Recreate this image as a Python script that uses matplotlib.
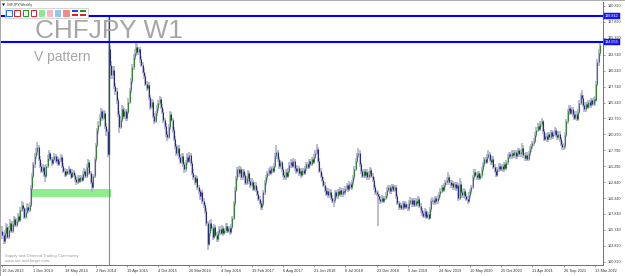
import matplotlib
matplotlib.use("Agg")
import matplotlib.pyplot as plt
from matplotlib.patches import Rectangle, Polygon
from matplotlib.transforms import blended_transform_factory
import numpy as np

# ---------------- data (weekly CHFJPY) ----------------
first_open = 105.2
closes = [
    104.5, 103.6, 104.9, 105.8, 104.3, 105.4, 106.5, 105.2, 106.2, 107.0, 106.1, 106.8, 107.5, 106.9, 108.4, 109.3, 108.7, 107.4, 108.2, 109.0, 108.4, 109.2, 111.9, 113.8,
    115.6, 116.9, 117.6, 118.3, 116.5, 115.4, 114.6, 115.2, 114.0, 113.8, 115.3, 116.6, 117.4, 116.5, 115.8, 116.4, 116.9, 116.1, 116.5, 115.7, 116.2, 116.8, 115.4, 114.6,
    114.0, 114.6, 114.2, 114.9, 114.3, 113.7, 114.4, 113.9, 113.3, 112.8, 113.5, 113.0, 113.6, 113.2, 114.1, 114.6, 113.8, 115.2, 116.0, 114.3, 112.9, 112.0, 113.8, 116.4,
    118.6, 120.9, 121.8, 123.0, 123.9, 122.8, 123.6, 121.6, 120.8, 117.2, 133.6, 131.2, 129.5, 130.4, 127.8, 127.0, 125.6, 123.4, 121.5, 122.6, 124.3, 123.2, 123.9, 122.9,
    123.8, 125.4, 127.2, 128.6, 130.8, 132.4, 133.0, 134.0, 133.1, 133.6, 132.0, 131.2, 130.1, 129.4, 128.2, 127.6, 128.0, 126.1, 124.6, 125.3, 123.2, 122.4, 123.6, 124.4,
    125.2, 125.8, 124.6, 123.8, 122.5, 121.6, 120.3, 119.8, 121.4, 123.4, 122.6, 121.0, 119.6, 118.4, 117.3, 118.2, 116.8, 116.0, 116.9, 115.6, 114.8, 115.9, 116.8, 116.2,
    117.0, 115.8, 114.3, 113.6, 112.8, 113.5, 112.0, 111.4, 110.6, 111.2, 109.8, 109.2, 108.3, 106.4, 103.2, 104.8, 106.5, 105.6, 104.3, 105.8, 104.6, 103.9, 104.8, 105.5,
    104.9, 105.7, 104.8, 105.3, 106.0, 105.2, 105.6, 105.0, 105.8, 107.2, 109.5, 111.6, 113.4, 114.8, 114.2, 114.9, 113.6, 114.5, 113.9, 112.7, 113.4, 114.2, 113.0, 112.4,
    112.9, 111.8, 112.4, 111.6, 111.0, 110.2, 109.6, 108.9, 109.4, 111.2, 112.8, 113.6, 114.2, 114.7, 114.3, 115.0, 114.6, 115.4, 116.9, 117.6, 116.4, 115.3, 115.9, 114.8,
    114.0, 113.6, 114.4, 113.8, 114.6, 115.5, 116.0, 115.4, 116.2, 115.0, 114.5, 115.1, 114.2, 114.6, 113.9, 114.7, 114.3, 115.0, 115.6, 115.2, 116.1, 115.7, 116.4, 116.0,
    116.8, 117.3, 118.0, 116.2, 114.6, 113.8, 113.2, 112.4, 111.6, 111.0, 111.5, 110.8, 111.3, 110.4, 109.9, 110.0, 111.2, 110.6, 111.4, 111.0, 111.6, 110.9, 111.5, 111.2,
    111.8, 112.3, 111.7, 112.6, 112.0, 112.8, 113.6, 114.9, 116.2, 117.0, 117.4, 115.6, 114.5, 113.8, 114.5, 113.9, 114.4, 113.6, 114.1, 114.7, 113.8, 113.2, 112.0, 111.2,
    111.0, 110.6, 110.2, 109.8, 110.4, 109.9, 110.3, 110.8, 111.6, 112.0, 111.4, 111.9, 112.2, 111.6, 112.0, 110.6, 109.6, 108.9, 109.3, 108.8, 109.5, 108.9, 109.4, 109.0,
    108.7, 109.6, 110.1, 109.4, 110.0, 109.3, 109.9, 109.5, 110.2, 109.1, 108.4, 108.0, 107.6, 108.3, 107.4, 107.9, 107.2, 108.6, 109.8, 110.1, 109.7, 110.3, 109.8, 110.4,
    110.9, 111.5, 112.0, 111.6, 112.3, 112.8, 113.2, 113.6, 112.8, 112.3, 112.7, 112.0, 112.5, 111.9, 112.4, 110.4, 112.6, 111.3, 110.8, 111.5, 110.6, 110.2, 109.9, 110.8,
    111.4, 112.0, 113.6, 114.4, 114.0, 113.6, 114.2, 113.5, 113.9, 114.8, 115.6, 116.4, 116.0, 116.8, 117.2, 116.3, 115.9, 116.5, 115.2, 114.6, 114.0, 114.8, 115.4, 114.9,
    115.3, 114.8, 115.6, 115.1, 115.9, 116.8, 117.2, 116.9, 117.4, 117.0, 117.5, 116.9, 117.3, 117.8, 117.2, 117.6, 118.2, 117.0, 116.6, 117.1, 116.5, 117.3, 118.0, 118.4,
    118.9, 119.3, 120.2, 121.0, 121.6, 121.2, 121.9, 122.3, 120.8, 119.6, 120.1, 119.5, 120.3, 119.8, 120.6, 120.0, 120.4, 121.0, 120.2, 119.8, 120.4, 119.5, 118.8, 118.3,
    118.4, 120.2, 122.3, 123.9, 124.4, 123.7, 124.2, 123.4, 122.9, 123.5, 122.7, 123.8, 125.2, 126.4, 126.0, 124.9, 124.2, 125.0, 124.6, 125.3, 124.8, 125.6, 125.1, 125.8,
    125.6, 128.2, 131.6, 133.0, 134.2,
]
highs = [
    105.9, 105.0, 105.3, 106.4, 106.2, 105.9, 107.0, 106.8, 106.7, 107.6, 107.4, 107.2, 108.0, 107.9, 108.9, 109.8, 109.7, 109.0, 108.7, 109.5, 109.4, 109.7, 112.3, 114.3,
    116.0, 117.4, 118.1, 119.1, 118.6, 116.9, 115.8, 115.7, 115.5, 114.5, 115.7, 117.0, 117.9, 117.6, 116.8, 116.8, 117.4, 117.2, 116.9, 116.8, 116.6, 117.2, 117.1, 115.8,
    115.0, 114.9, 114.9, 115.3, 115.1, 114.6, 114.8, 114.7, 114.2, 113.6, 113.9, 113.8, 113.9, 114.0, 114.5, 115.0, 114.9, 115.6, 116.5, 116.3, 114.6, 113.2, 114.1, 116.8,
    119.0, 121.3, 122.3, 123.5, 124.4, 124.2, 124.1, 123.9, 122.0, 121.2, 138.842, 134.2, 131.8, 131.0, 130.9, 128.3, 127.5, 126.0, 123.9, 123.1, 124.8, 124.7, 124.4, 124.3,
    124.2, 125.9, 127.6, 129.1, 131.3, 132.9, 133.6, 134.6, 134.4, 134.0, 133.9, 132.5, 131.6, 130.6, 129.8, 128.6, 128.5, 128.4, 126.5, 125.8, 125.7, 123.6, 124.0, 124.9,
    125.6, 126.3, 126.1, 125.0, 124.2, 122.9, 122.0, 120.8, 121.9, 124.0, 123.8, 122.9, 121.4, 120.0, 118.8, 118.7, 118.6, 117.2, 117.4, 117.3, 115.9, 116.3, 117.4, 117.1,
    117.5, 117.4, 116.2, 114.8, 114.0, 113.9, 113.8, 112.4, 111.8, 111.6, 111.6, 110.3, 109.6, 108.8, 106.8, 105.3, 106.9, 107.0, 105.9, 106.2, 106.1, 105.0, 105.2, 105.9,
    105.9, 106.1, 106.0, 105.7, 106.4, 106.5, 106.0, 105.9, 106.2, 107.6, 109.9, 112.1, 113.8, 115.2, 115.3, 115.4, 115.2, 114.9, 114.8, 114.3, 113.8, 114.7, 114.6, 113.4,
    113.4, 113.2, 112.8, 112.8, 112.0, 111.4, 110.6, 109.9, 109.8, 111.6, 113.2, 114.0, 114.6, 115.1, 115.2, 115.4, 115.4, 115.8, 117.4, 118.6, 117.9, 116.8, 116.3, 116.2,
    115.2, 114.4, 114.8, 114.8, 115.0, 115.9, 116.5, 116.3, 116.6, 116.5, 115.4, 115.5, 115.4, 115.0, 114.9, 115.1, 115.0, 115.4, 116.0, 115.9, 116.5, 116.4, 116.8, 116.8,
    117.2, 117.8, 118.8, 118.3, 116.6, 115.0, 114.2, 113.6, 112.8, 112.0, 111.9, 111.9, 111.7, 111.7, 110.8, 110.4, 111.6, 111.6, 111.8, 111.8, 112.0, 111.9, 111.9, 111.8,
    112.2, 112.7, 112.6, 113.0, 112.9, 113.2, 114.0, 115.3, 116.6, 117.4, 118.1, 117.8, 116.0, 114.9, 114.9, 114.9, 114.8, 114.8, 114.5, 115.2, 115.1, 114.2, 113.6, 112.4,
    111.6, 111.4, 110.9, 110.6, 110.8, 110.7, 110.6, 111.2, 112.0, 112.4, 112.3, 112.2, 112.6, 112.5, 112.4, 112.3, 110.9, 109.9, 109.7, 109.6, 109.9, 109.8, 109.8, 109.7,
    109.4, 110.0, 110.5, 110.4, 110.4, 110.3, 110.3, 110.2, 110.6, 110.5, 109.5, 108.8, 108.3, 108.7, 108.6, 108.3, 108.2, 109.0, 110.2, 110.5, 110.4, 110.7, 110.6, 110.8,
    111.3, 111.9, 112.4, 112.4, 112.7, 113.2, 113.6, 114.4, 113.9, 113.1, 113.1, 113.0, 112.9, 112.8, 112.8, 112.7, 113.4, 113.0, 111.8, 111.9, 111.8, 110.9, 110.6, 111.2,
    111.8, 112.4, 114.0, 114.8, 114.8, 114.4, 114.6, 114.5, 114.3, 115.2, 116.0, 116.8, 116.8, 117.2, 117.9, 117.6, 116.7, 116.9, 116.9, 115.6, 114.9, 115.2, 115.8, 115.8,
    115.7, 115.7, 116.0, 116.0, 116.3, 117.2, 117.6, 117.6, 117.8, 117.8, 117.9, 117.9, 117.7, 118.2, 118.2, 118.0, 118.9, 118.6, 117.4, 117.5, 117.5, 117.7, 118.4, 118.8,
    119.3, 119.7, 120.6, 121.4, 122.0, 122.1, 122.3, 122.9, 122.6, 121.2, 120.5, 120.5, 120.7, 120.7, 121.0, 121.0, 120.8, 121.4, 121.3, 120.6, 120.8, 120.8, 119.9, 119.2,
    118.9, 120.6, 122.7, 124.3, 124.9, 124.8, 124.6, 124.6, 123.8, 123.9, 123.9, 124.2, 125.6, 126.8, 127.2, 126.4, 125.3, 125.4, 125.4, 125.7, 125.7, 126.0, 126.0, 126.2,
    126.3, 128.6, 132.0, 133.6, 134.655,
]
lows = [
    104.0, 103.1, 103.2, 104.5, 104.0, 104.0, 105.0, 104.8, 104.9, 105.9, 105.8, 105.8, 106.5, 106.6, 106.6, 108.1, 108.3, 107.0, 107.1, 107.9, 108.0, 108.1, 108.9, 111.5,
    113.4, 115.1, 116.4, 117.1, 116.1, 115.0, 114.2, 114.3, 113.7, 112.8, 113.5, 115.0, 116.2, 116.2, 115.3, 115.5, 116.1, 115.8, 115.7, 115.3, 115.4, 116.0, 115.1, 114.2,
    113.6, 113.7, 113.9, 114.0, 114.0, 113.3, 113.4, 113.6, 112.9, 112.4, 112.5, 112.7, 112.7, 112.9, 113.0, 113.8, 113.4, 113.5, 115.0, 114.0, 112.5, 111.3, 111.7, 113.5,
    116.0, 118.3, 120.4, 121.4, 122.6, 122.4, 122.5, 121.2, 120.1, 116.8, 116.9, 130.7, 128.9, 129.0, 127.3, 126.4, 125.0, 123.0, 120.5, 121.1, 122.2, 122.8, 122.7, 122.4,
    122.4, 123.4, 125.0, 126.8, 128.2, 130.3, 131.9, 132.6, 132.7, 132.7, 131.5, 130.8, 129.7, 128.9, 127.8, 127.1, 127.2, 125.7, 124.1, 124.2, 122.8, 121.9, 122.0, 123.2,
    123.9, 124.8, 124.2, 123.4, 122.0, 121.2, 119.9, 119.2, 119.5, 121.0, 122.2, 120.5, 119.2, 118.0, 116.9, 116.9, 116.4, 115.6, 115.7, 115.2, 114.3, 114.4, 115.5, 115.8,
    115.8, 115.4, 113.9, 113.1, 112.4, 112.4, 111.6, 111.0, 110.1, 110.2, 109.4, 108.8, 107.9, 105.9, 102.2, 102.9, 104.4, 105.2, 103.8, 103.9, 104.2, 103.4, 103.5, 104.4,
    104.5, 104.5, 104.4, 104.5, 104.9, 104.8, 104.9, 104.6, 104.7, 105.5, 106.9, 109.1, 111.2, 113.0, 113.7, 113.8, 113.2, 113.2, 113.5, 112.3, 112.3, 113.0, 112.6, 111.9,
    112.0, 111.4, 111.4, 111.2, 110.6, 109.8, 109.2, 108.5, 108.5, 109.1, 110.8, 112.4, 113.2, 113.8, 113.9, 113.9, 114.2, 114.2, 115.0, 116.5, 116.0, 114.9, 114.9, 114.4,
    113.6, 113.2, 113.2, 113.4, 113.5, 114.2, 115.1, 115.0, 115.0, 114.6, 114.1, 114.2, 113.8, 113.8, 113.5, 113.6, 113.9, 113.9, 114.6, 114.8, 114.8, 115.3, 115.3, 115.6,
    115.6, 116.4, 117.0, 115.8, 114.2, 113.4, 112.8, 112.0, 111.2, 110.6, 110.6, 110.4, 110.4, 110.0, 109.5, 109.0, 109.6, 110.2, 110.2, 110.6, 110.6, 110.5, 110.5, 110.8,
    110.8, 111.4, 111.3, 111.4, 111.7, 111.6, 112.4, 113.2, 114.5, 115.8, 116.6, 115.2, 114.1, 113.4, 113.4, 113.5, 113.5, 113.2, 113.2, 113.8, 113.4, 112.8, 111.6, 110.8,
    110.6, 105.9, 109.8, 109.4, 109.5, 109.5, 109.6, 110.0, 110.4, 111.2, 111.0, 111.0, 111.6, 111.2, 111.2, 110.2, 109.2, 108.5, 108.6, 108.4, 108.5, 108.5, 108.6, 108.6,
    108.3, 108.3, 109.2, 109.0, 109.0, 108.9, 108.9, 109.1, 109.1, 108.7, 108.0, 107.6, 107.2, 107.2, 107.0, 107.0, 106.9, 107.0, 108.2, 109.4, 109.3, 109.3, 109.4, 109.4,
    110.0, 110.5, 111.1, 111.2, 111.2, 111.9, 112.4, 112.8, 112.4, 111.9, 111.9, 111.6, 111.6, 111.5, 111.5, 109.9, 110.0, 110.9, 110.3, 110.4, 110.2, 109.8, 109.4, 109.5,
    110.4, 111.0, 111.7, 113.2, 113.6, 113.2, 113.2, 113.1, 113.1, 113.5, 114.4, 115.2, 115.6, 115.6, 116.4, 115.9, 115.5, 115.5, 114.8, 114.2, 113.6, 113.6, 114.4, 114.5,
    114.5, 114.4, 114.4, 114.7, 114.7, 115.5, 116.4, 116.5, 116.5, 116.6, 116.6, 116.5, 116.5, 116.9, 116.8, 116.8, 117.2, 116.6, 116.2, 116.2, 116.1, 116.1, 116.9, 117.6,
    118.0, 118.5, 118.9, 119.8, 120.6, 120.8, 120.8, 121.5, 120.4, 119.2, 119.2, 119.1, 119.1, 119.4, 119.4, 119.6, 119.6, 120.0, 119.8, 119.4, 119.4, 119.1, 118.4, 117.9,
    117.8, 118.0, 119.9, 121.9, 123.5, 123.3, 123.3, 123.0, 122.5, 122.5, 122.3, 122.3, 123.4, 124.8, 125.6, 124.5, 123.8, 123.8, 124.2, 124.2, 124.4, 124.4, 124.7, 124.7,
    124.9, 125.3, 127.9, 131.0, 132.6,
]

date_labels = ["16 Jun 2013", "1 Dec 2013", "18 May 2014", "2 Nov 2014", "19 Apr 2015",
               "4 Oct 2015", "20 Mar 2016", "4 Sep 2016", "19 Feb 2017", "6 Aug 2017",
               "21 Jan 2018", "8 Jul 2018", "23 Dec 2018", "9 Jun 2019", "24 Nov 2019",
               "10 May 2020", "25 Oct 2020", "11 Apr 2021", "26 Sep 2021", "13 Mar 2022"]
weeks_between_labels = 24

price_ticks = [140.390, 137.890, 135.390, 132.740, 130.240, 127.740, 125.240, 122.790,
               120.290, 117.790, 115.290, 112.840, 110.340, 107.840, 105.340, 102.890, 100.390]

level_lines = [138.842, 134.655]
spike_bar = 82
zone_bars = (22, 83.6)
zone_prices = (110.55, 111.75)

title_text = "CHFJPY W1"
subtitle_text = "V pattern"
symbol_text = "CHFJPY,Weekly"
footer_lines = ["Supply and Demand Trading Community", "www.set-and-forget.com"]

# ---------------- drawing ----------------
W, H = 625, 276
FONT = ["Liberation Sans", "DejaVu Sans"]
plt.rcParams["font.family"] = FONT

fig = plt.figure(figsize=(W / 100, H / 100), dpi=100)
fig.patch.set_facecolor("white")

ax_left, ax_right, ax_top, ax_bottom = 1.5, 603.3, 2.0, 265.0
ax = fig.add_axes([ax_left / W, 1 - ax_bottom / H, (ax_right - ax_left) / W, (ax_bottom - ax_top) / H])
ax.set_facecolor("white")

o = np.array([first_open] + closes[:-1])
c = np.array(closes)
hi = np.array(highs)
lo = np.array(lows)
x = np.arange(len(c))
up = c >= o

ymin, ymax = 99.87, 140.97
ax.set_ylim(ymin, ymax)
ax.set_xlim(-0.6, 462.5)

# demand zone
ax.add_patch(Rectangle((zone_bars[0], zone_prices[0]), zone_bars[1] - zone_bars[0],
                       zone_prices[1] - zone_prices[0], facecolor="#90ee90", edgecolor="none", zorder=1))

wick_col = "#aeaed0"
bull_col = "#378237"
bear_col = "#2a2a86"
ax.vlines(x, lo, hi, color=wick_col, lw=1.15, zorder=2)
ax.vlines(x[up], o[up], c[up], color=bull_col, lw=0.8, zorder=3)
ax.vlines(x[~up], c[~up], o[~up], color=bear_col, lw=0.8, zorder=3)

# vertical marker through the spike candle
ax.vlines(spike_bar, ymin, o[spike_bar], color="#8c8c8c", lw=0.8, zorder=2.5)
ax.vlines(spike_bar, o[spike_bar], level_lines[0], color="#1f5f1f", lw=0.9, zorder=4)

# horizontal levels with price boxes
trans = blended_transform_factory(ax.transAxes, ax.transData)
for lv in level_lines:
    ax.axhline(lv, color="#0000ff", lw=1.5, zorder=5)

# axes styling
for s in ["left", "top"]:
    ax.spines[s].set_visible(False)
for s in ["right", "bottom"]:
    ax.spines[s].set_color("#707070")
    ax.spines[s].set_linewidth(0.7)

ax.yaxis.tick_right()
ax.set_yticks(price_ticks)
ax.set_yticklabels([f"{p:.3f}" for p in price_ticks], fontsize=2.7, color="#333333")
ax.tick_params(axis="y", length=1.5, width=0.4, pad=1.5, colors="#555555", labelcolor="#333333")

xt = [i * weeks_between_labels for i in range(len(date_labels))]
ax.set_xticks(xt)
ax.set_xticklabels(date_labels, fontsize=2.8, color="#333333", ha="left")
ax.tick_params(axis="x", length=1.5, width=0.4, pad=1.2, colors="#555555", labelcolor="#333333")

for lv in level_lines:
    ax.text(1.003, lv, f"{lv:.3f}", transform=trans, fontsize=2.7, color="white",
            ha="left", va="center", zorder=6, clip_on=False,
            bbox=dict(boxstyle="square,pad=0.25", facecolor="#1a1aff", edgecolor="#0000aa", lw=0.3))

# ---------------- figure-level decorations (pixel coordinates) ----------------
def fx(px):
    return px / W

def fy(py):
    return 1 - py / H

def px_rect(x0, y0, w, h, **kw):
    fig.add_artist(Rectangle((fx(x0), fy(y0 + h)), w / W, h / H, transform=fig.transFigure, **kw))

# window borders
px_rect(0, 0, 1.5, H, facecolor="#a9a9a9", edgecolor="none")
px_rect(0, 0, W, 1.2, facecolor="#b0b0b0", edgecolor="none")

# titles
fig.text(fx(35), fy(37.7), title_text, fontsize=18.9, color="#a6a6a6", ha="left", va="baseline")
fig.text(fx(34.5), fy(61), subtitle_text, fontsize=10, color="#a6a6a6", ha="left", va="baseline")
fig.text(fx(7), fy(4.6), symbol_text, fontsize=2.6, color="#333333", ha="left", va="center")
fig.add_artist(Polygon([[fx(2), fy(3.5)], [fx(5), fy(3.5)], [fx(3.5), fy(6)]], closed=True,
                       transform=fig.transFigure, facecolor="black", edgecolor="none"))
for k, line in enumerate(footer_lines):
    fig.text(fx(5), fy(256 + 5 * k), line, fontsize=3, color="#9a9a9a", ha="left", va="center")

# small toolbar of object icons
px_rect(5, 8, 83, 9.5, facecolor="white", edgecolor="#b8b8b8", lw=0.4)
icons = [("none", "#1e6bff"), ("none", "#e0202a"), ("none", "#1a9a1a"), ("none", "#e0202a"),
         ("#8fe88f", "#8fe88f"), ("#f7b6c2", "#f7b6c2"), ("#8ccaf5", "#8ccaf5"), ("#f08c8c", "#f08c8c")]
for k, (fc, ec) in enumerate(icons):
    px_rect(6.3 + 8.1 * k, 10, 5.6, 5.6, facecolor=fc, edgecolor=ec, lw=0.7)
for k, (c1, c2) in enumerate([("#1e3cff", "#e0202a"), ("#1a9a1a", "#e0202a")]):
    x0 = 71.5 + 8.3 * k
    px_rect(x0, 10.5, 6, 1.2, facecolor=c1, edgecolor="none")
    px_rect(x0, 14.3, 6, 1.2, facecolor=c2, edgecolor="none")

fig.savefig("out.png", dpi=100, facecolor="white")
